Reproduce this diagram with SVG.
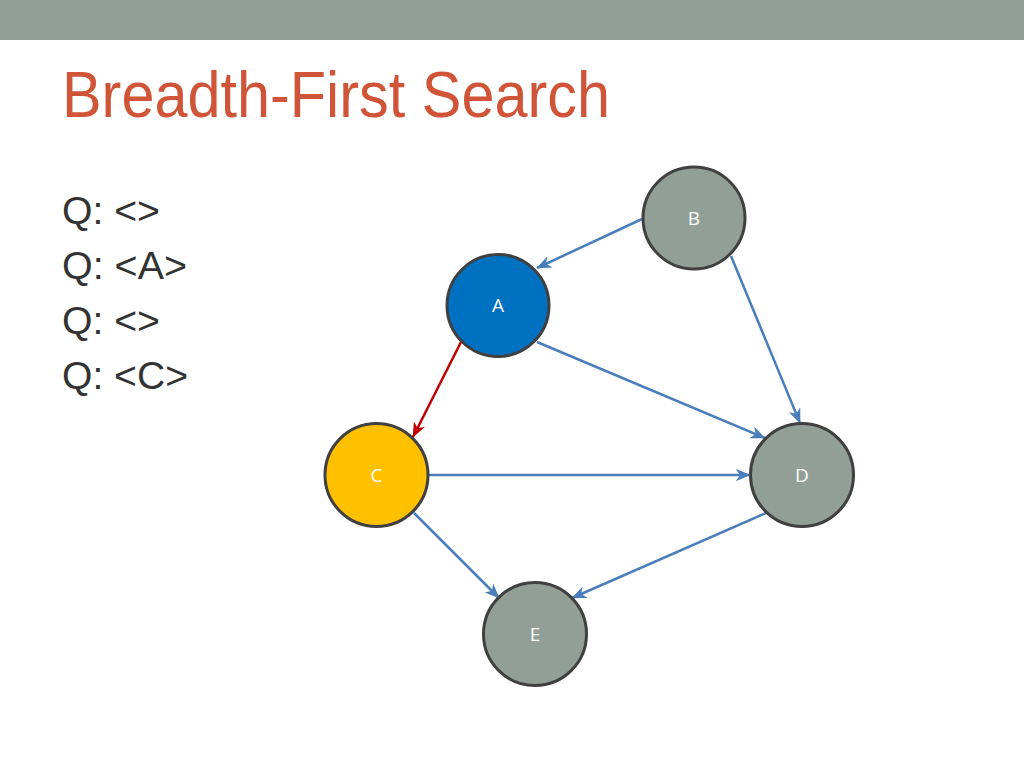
<svg xmlns="http://www.w3.org/2000/svg" width="1024" height="768" viewBox="0 0 1024 768">
<style>
.node{stroke:#404040;stroke-width:3}
.gray{fill:#919f97}
.lbl{font-family:"Open Sans","Noto Sans",sans-serif;font-size:19px;fill:#ffffff;text-anchor:middle}
.q{font-family:"Liberation Sans",Arial,sans-serif;font-size:38px;fill:#333333}
.e{fill:none;stroke:#4a7ebb;stroke-width:2.5}
.r{fill:none;stroke:#c00000;stroke-width:2.5}
</style>
<defs>
<marker id="ab" viewBox="0 0 12 10" refX="11.5" refY="5" markerWidth="15" markerHeight="12.5" markerUnits="userSpaceOnUse" orient="auto">
<path d="M0,0 L12,5 L0,10 L3.5,5 z" fill="#4a7ebb"/>
</marker>
<marker id="ar" viewBox="0 0 12 10" refX="11.5" refY="5" markerWidth="15" markerHeight="12.5" markerUnits="userSpaceOnUse" orient="auto">
<path d="M0,0 L12,5 L0,10 L3.5,5 z" fill="#c00000"/>
</marker>
</defs>
<rect x="0" y="0" width="1024" height="768" fill="#ffffff"/>
<rect x="0" y="0" width="1024" height="40" fill="#919f97"/>
<text x="62" y="117" font-family="Liberation Sans,Arial,sans-serif" font-size="64" fill="#d05538" textLength="548" lengthAdjust="spacingAndGlyphs">Breadth-First Search</text>
<g id="queue">
<text class="q" x="62" y="224" textLength="98" lengthAdjust="spacingAndGlyphs">Q: &lt;&gt;</text>
<text class="q" x="62" y="279" textLength="125" lengthAdjust="spacingAndGlyphs">Q: &lt;A&gt;</text>
<text class="q" x="62" y="334" textLength="98" lengthAdjust="spacingAndGlyphs">Q: &lt;&gt;</text>
<text class="q" x="62" y="389" textLength="126" lengthAdjust="spacingAndGlyphs">Q: &lt;C&gt;</text>
</g>
<g id="connectors">
<line class="e" x1="642" y1="219" x2="537" y2="268" marker-end="url(#ab)"/>
<line class="e" x1="731" y1="256" x2="800" y2="423" marker-end="url(#ab)"/>
<line class="e" x1="537" y1="342" x2="765" y2="438" marker-end="url(#ab)"/>
<line class="r" x1="461" y1="342" x2="413" y2="437" marker-end="url(#ar)"/>
<line class="e" x1="428" y1="475" x2="750" y2="475" marker-end="url(#ab)"/>
<line class="e" x1="414" y1="513" x2="499" y2="598" marker-end="url(#ab)"/>
<line class="e" x1="766" y1="513" x2="572" y2="598" marker-end="url(#ab)"/>
</g>
<g id="node-B"><circle class="node gray" cx="694" cy="218" r="51"/><text class="lbl" x="694" y="225">B</text></g>
<g id="node-A"><circle class="node" cx="498" cy="305.5" r="51" fill="#0070c0"/><text class="lbl" x="498" y="312">A</text></g>
<g id="node-C"><circle class="node" cx="376.5" cy="475" r="51.5" fill="#ffc000"/><text class="lbl" x="376.5" y="482">C</text></g>
<g id="node-D"><circle class="node gray" cx="802" cy="475" r="51.5"/><text class="lbl" x="802" y="482">D</text></g>
<g id="node-E"><circle class="node gray" cx="535" cy="634" r="51.5"/><text class="lbl" x="535" y="641">E</text></g>
</svg>
